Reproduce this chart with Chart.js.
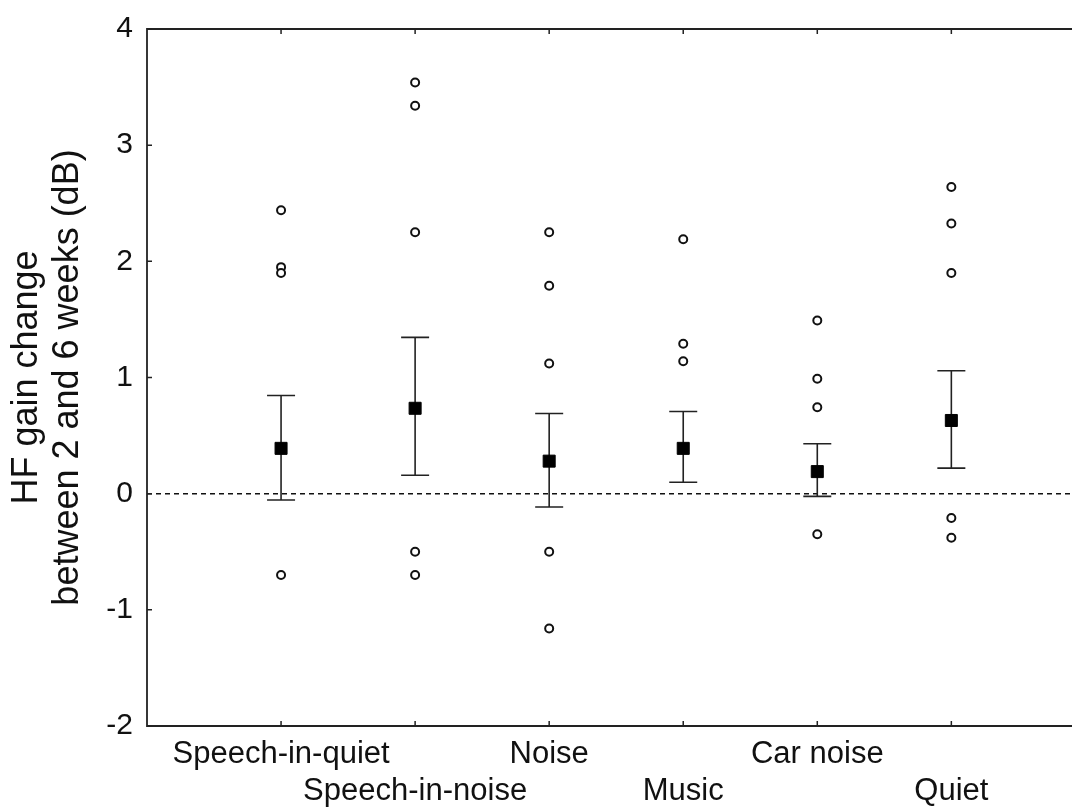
<!DOCTYPE html>
<html>
<head>
<meta charset="utf-8">
<script src="https://cdn.jsdelivr.net/npm/chart.js@4/dist/chart.umd.min.js"></script>
<style>
    body { margin: 0; background: #fff; }
    canvas { display: block; }
</style>
</head>
<body>
<canvas id="gainChart" width="1072" height="808"></canvas>
<script>
// Listening situations along the x axis
const situations = ['Speech-in-quiet', 'Speech-in-noise', 'Noise', 'Music', 'Car noise', 'Quiet'];

// Group means with the ends of their error bars (dB)
const means = [0.39, 0.735, 0.28, 0.39, 0.19, 0.63];
const upper = [0.845, 1.345, 0.69, 0.707, 0.43, 1.058];
const lower = [-0.054, 0.158, -0.115, 0.098, -0.023, 0.22];

// Individual values, one list per situation (dB)
const individual = [
    [2.44, 1.95, 1.90, -0.70],
    [3.54, 3.34, 2.25, -0.50, -0.70],
    [2.25, 1.79, 1.12, -0.50, -1.16],
    [2.19, 1.29, 1.14],
    [1.49, 0.99, 0.744, -0.35],
    [2.64, 2.325, 1.90, -0.21, -0.38]
];

const yTicks = [-2, -1, 0, 1, 2, 3, 4];

const ink = '#111';

// Dashed zero line, error bars and inward tick marks of the frame
const framePlugin = {
    id: 'frame',
    beforeDatasetsDraw(chart) {
        const { ctx, chartArea: a, scales: { x, y } } = chart;
        ctx.save();

        // zero reference
        const y0 = y.getPixelForValue(0);
        ctx.strokeStyle = ink;
        ctx.lineWidth = 1.5;
        ctx.setLineDash([5, 4]);
        ctx.beginPath();
        ctx.moveTo(a.left, y0);
        ctx.lineTo(a.right, y0);
        ctx.stroke();
        ctx.setLineDash([]);

        // error bars
        ctx.strokeStyle = '#222';
        ctx.lineWidth = 1.6;
        situations.forEach((s, i) => {
            const px = x.getPixelForValue(i + 1);
            const top = y.getPixelForValue(upper[i]);
            const bot = y.getPixelForValue(lower[i]);
            ctx.beginPath();
            ctx.moveTo(px, top);
            ctx.lineTo(px, bot);
            ctx.moveTo(px - 14, top);
            ctx.lineTo(px + 14, top);
            ctx.moveTo(px - 14, bot);
            ctx.lineTo(px + 14, bot);
            ctx.stroke();
        });
        ctx.restore();
    },
    afterDraw(chart) {
        const { ctx, chartArea: a, scales: { x, y } } = chart;
        ctx.save();
        ctx.strokeStyle = '#222';
        ctx.lineWidth = 1.8;

        // left, top and bottom of the box
        ctx.beginPath();
        ctx.moveTo(a.right, a.top);
        ctx.lineTo(a.left, a.top);
        ctx.lineTo(a.left, a.bottom);
        ctx.lineTo(a.right, a.bottom);
        ctx.stroke();

        ctx.lineWidth = 1.5;
        ctx.beginPath();
        yTicks.forEach(v => {
            const py = y.getPixelForValue(v);
            ctx.moveTo(a.left, py);
            ctx.lineTo(a.left + 5, py);
        });
        situations.forEach((s, i) => {
            const px = x.getPixelForValue(i + 1);
            ctx.moveTo(px, a.top);
            ctx.lineTo(px, a.top + 5);
            ctx.moveTo(px, a.bottom);
            ctx.lineTo(px, a.bottom - 5);
        });
        ctx.stroke();
        ctx.restore();
    }
};

const scatterPoints = [];
individual.forEach((vals, i) => {
    vals.forEach(v => scatterPoints.push({ x: i + 1, y: v }));
});

const meanPoints = means.map((m, i) => ({ x: i + 1, y: m }));

const ctx = document.getElementById('gainChart').getContext('2d');
const gainChart = new Chart(ctx, {
    type: 'scatter',
    data: {
        datasets: [{
            label: 'Individual',
            data: scatterPoints,
            pointStyle: 'circle',
            pointRadius: 4,
            pointBorderWidth: 2,
            pointBorderColor: ink,
            pointBackgroundColor: '#fff'
        }, {
            label: 'Mean',
            data: meanPoints,
            pointStyle: 'rect',
            pointRadius: 8.5,
            pointBorderWidth: 1,
            pointBorderColor: '#000',
            pointBackgroundColor: '#000'
        }]
    },
    options: {
        responsive: false,
        animation: false,
        devicePixelRatio: 1,
        layout: {
            autoPadding: false,
            padding: { left: 0, top: 29, right: 0, bottom: 0 }
        },
        plugins: {
            legend: { display: false },
            tooltip: { enabled: false }
        },
        scales: {
            x: {
                type: 'linear',
                min: 0,
                max: 6.9,
                grid: { display: false, drawTicks: false },
                border: { display: false },
                afterBuildTicks: function(scale) {
                    scale.ticks = situations.map((s, i) => ({ value: i + 1 }));
                },
                afterFit: function(scale) {
                    scale.height = 82;
                    // box runs off the right edge, so no room kept for labels
                    scale.paddingLeft = 0;
                    scale.paddingRight = 0;
                },
                ticks: {
                    autoSkip: false,
                    maxRotation: 0,
                    padding: 10,
                    color: ink,
                    font: { family: '"Liberation Sans", Arial, sans-serif', size: 31, lineHeight: 1.2 },
                    callback: function(value) {
                        const name = situations[value - 1];
                        if (!name) return '';
                        // every second label drops to a lower row
                        return (value - 1) % 2 === 0 ? [name] : ['', name];
                    }
                }
            },
            y: {
                min: -2,
                max: 4,
                grid: { display: false, drawTicks: false },
                border: { display: false },
                afterFit: function(scale) {
                    scale.width = 147;
                    scale.paddingTop = 0;
                    scale.paddingBottom = 0;
                },
                ticks: {
                    stepSize: 1,
                    padding: 14,
                    color: ink,
                    font: { family: '"Liberation Sans", Arial, sans-serif', size: 30 }
                },
                title: {
                    display: true,
                    text: ['HF gain change', 'between 2 and 6 weeks (dB)'],
                    color: ink,
                    padding: { top: 7, bottom: 0 },
                    font: { family: '"Liberation Sans", Arial, sans-serif', size: 36, lineHeight: 1.14 }
                }
            }
        }
    },
    plugins: [framePlugin]
});
</script>
</body>
</html>
